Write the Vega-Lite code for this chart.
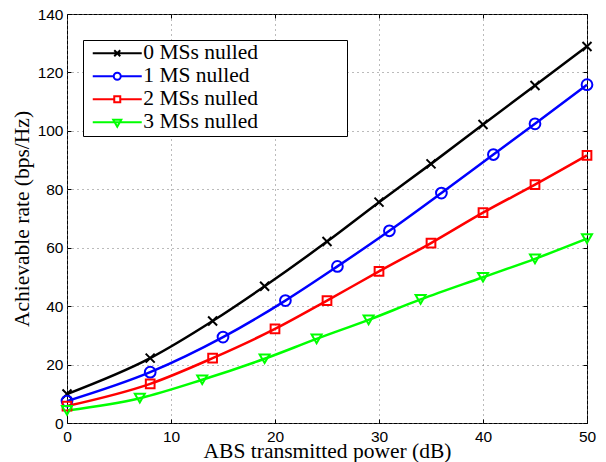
{
  "$schema": "https://vega.github.io/schema/vega-lite/v6.json",
  "width": 520,
  "height": 409,
  "autosize": {"type": "none"},
  "padding": {"left": 67, "top": 14, "right": 19, "bottom": 39},
  "background": "white",
  "config": {
    "view": {"stroke": "black", "strokeWidth": 1},
    "axis": {
      "domain": false,
      "tickSize": -4,
      "tickColor": "black",
      "tickWidth": 1,
      "labelFont": "Liberation Sans",
      "labelFontSize": 15.5,
      "labelColor": "black",
      "labelFlush": false,
      "titleFont": "Liberation Serif",
      "titleFontSize": 21.5,
      "titleFontWeight": "normal",
      "titleColor": "black",
      "grid": true,
      "gridColor": "#777777",
      "gridDash": [1, 4],
      "gridWidth": 1
    },
    "legend": {
      "orient": "none",
      "legendX": 16,
      "legendY": 26,
      "title": null,
      "strokeColor": "black",
      "fillColor": "white",
      "padding": 2.5,
      "labelFont": "Liberation Serif",
      "labelFontSize": 21.5,
      "labelColor": "black",
      "symbolSize": 100,
      "symbolStrokeWidth": 2,
      "symbolOffset": 21,
      "labelOffset": 15.3,
      "rowPadding": 0
    }
  },
  "data": {
    "values": [
      {"series": "0 MSs nulled", "power": 0, "rate": 9.9},
      {"series": "0 MSs nulled", "power": 8, "rate": 22.2},
      {"series": "0 MSs nulled", "power": 14, "rate": 34.9},
      {"series": "0 MSs nulled", "power": 19, "rate": 46.8},
      {"series": "0 MSs nulled", "power": 25, "rate": 62.1},
      {"series": "0 MSs nulled", "power": 30, "rate": 75.6},
      {"series": "0 MSs nulled", "power": 35, "rate": 88.7},
      {"series": "0 MSs nulled", "power": 40, "rate": 102.2},
      {"series": "0 MSs nulled", "power": 45, "rate": 115.5},
      {"series": "0 MSs nulled", "power": 50, "rate": 128.9},
      {"series": "1 MS nulled", "power": 0, "rate": 7.5},
      {"series": "1 MS nulled", "power": 8, "rate": 17.4},
      {"series": "1 MS nulled", "power": 15, "rate": 29.4},
      {"series": "1 MS nulled", "power": 21, "rate": 41.9},
      {"series": "1 MS nulled", "power": 26, "rate": 53.6},
      {"series": "1 MS nulled", "power": 31, "rate": 65.8},
      {"series": "1 MS nulled", "power": 36, "rate": 78.7},
      {"series": "1 MS nulled", "power": 41, "rate": 91.9},
      {"series": "1 MS nulled", "power": 45, "rate": 102.4},
      {"series": "1 MS nulled", "power": 50, "rate": 115.8},
      {"series": "2 MSs nulled", "power": 0, "rate": 5.8},
      {"series": "2 MSs nulled", "power": 8, "rate": 13.4},
      {"series": "2 MSs nulled", "power": 14, "rate": 22.2},
      {"series": "2 MSs nulled", "power": 20, "rate": 32.2},
      {"series": "2 MSs nulled", "power": 25, "rate": 41.9},
      {"series": "2 MSs nulled", "power": 30, "rate": 51.9},
      {"series": "2 MSs nulled", "power": 35, "rate": 61.6},
      {"series": "2 MSs nulled", "power": 40, "rate": 72.0},
      {"series": "2 MSs nulled", "power": 45, "rate": 81.6},
      {"series": "2 MSs nulled", "power": 50, "rate": 91.6},
      {"series": "3 MSs nulled", "power": 0, "rate": 4.3},
      {"series": "3 MSs nulled", "power": 7, "rate": 8.5},
      {"series": "3 MSs nulled", "power": 13, "rate": 14.8},
      {"series": "3 MSs nulled", "power": 19, "rate": 22.0},
      {"series": "3 MSs nulled", "power": 24, "rate": 28.8},
      {"series": "3 MSs nulled", "power": 29, "rate": 35.3},
      {"series": "3 MSs nulled", "power": 34, "rate": 42.3},
      {"series": "3 MSs nulled", "power": 40, "rate": 49.9},
      {"series": "3 MSs nulled", "power": 45, "rate": 56.2},
      {"series": "3 MSs nulled", "power": 50, "rate": 63.1}
    ]
  },
  "layer": [
    {
      "mark": {"type": "line", "strokeWidth": 2.5, "interpolate": "monotone"},
      "encoding": {
        "x": {"field": "power", "type": "quantitative", "scale": {"domain": [0, 50], "nice": false},
              "axis": {"values": [0, 10, 20, 30, 40, 50], "title": "ABS transmitted power (dB)", "labelPadding": 10, "titlePadding": -4.5}},
        "y": {"field": "rate", "type": "quantitative", "scale": {"domain": [0, 140], "nice": false},
              "axis": {"values": [0, 20, 40, 60, 80, 100, 120, 140], "title": "Achievable rate (bps/Hz)", "labelPadding": 8, "titlePadding": 4}},
        "color": {
          "field": "series", "type": "nominal",
          "scale": {"domain": ["0 MSs nulled", "1 MS nulled", "2 MSs nulled", "3 MSs nulled"], "range": ["#000000", "#0000ff", "#ff0000", "#00ff00"]},
          "legend": {
            "encode": {
              "symbols": {
                "update": {
                  "fill": {"value": "transparent"},
                  "shape": {"signal": "datum.value === '0 MSs nulled' ? 'M-4.9,0H4.9M-0.6,-0.6L0.6,0.6M-0.6,0.6L0.6,-0.6M44.6,0' : datum.value === '1 MS nulled' ? 'M-4.9,0H-0.7M0.7,0H4.9M-0.7,0A0.7,0.7,0,1,1,0.7,0A0.7,0.7,0,1,1,-0.7,0M44.6,0' : datum.value === '2 MSs nulled' ? 'M-4.9,0H-0.6M0.6,0H4.9M-0.6,-0.6H0.6V0.6H-0.6ZM44.6,0' : 'M-4.9,0H4.9M-0.8,-0.5L0.8,-0.5L0,0.9ZM44.6,0'"}
                }
              }
            }
          }
        }
      }
    },
    {
      "transform": [{"filter": {"field": "series", "equal": "0 MSs nulled"}}],
      "mark": {"type": "point", "filled": false, "strokeWidth": 2, "opacity": 1, "shape": "M-1,-1L1,1M-1,1L1,-1", "size": 81},
      "encoding": {
        "x": {"field": "power", "type": "quantitative", "axis": null},
        "y": {"field": "rate", "type": "quantitative", "axis": null},
        "color": {"field": "series", "type": "nominal", "legend": null}
      }
    },
    {
      "transform": [{"filter": {"field": "series", "equal": "1 MS nulled"}}],
      "mark": {"type": "point", "filled": false, "strokeWidth": 2, "opacity": 1, "shape": "circle", "size": 115},
      "encoding": {
        "x": {"field": "power", "type": "quantitative", "axis": null},
        "y": {"field": "rate", "type": "quantitative", "axis": null},
        "color": {"field": "series", "type": "nominal", "legend": null}
      }
    },
    {
      "transform": [{"filter": {"field": "series", "equal": "2 MSs nulled"}}],
      "mark": {"type": "point", "filled": false, "strokeWidth": 2, "opacity": 1, "shape": "square", "size": 76},
      "encoding": {
        "x": {"field": "power", "type": "quantitative", "axis": null},
        "y": {"field": "rate", "type": "quantitative", "axis": null},
        "color": {"field": "series", "type": "nominal", "legend": null}
      }
    },
    {
      "transform": [{"filter": {"field": "series", "equal": "3 MSs nulled"}}],
      "mark": {"type": "point", "filled": false, "strokeWidth": 2, "opacity": 1, "shape": "triangle-down", "size": 100},
      "encoding": {
        "x": {"field": "power", "type": "quantitative", "axis": null},
        "y": {"field": "rate", "type": "quantitative", "axis": null},
        "color": {"field": "series", "type": "nominal", "legend": null}
      }
    },
    {
      "mark": {"type": "point", "opacity": 0},
      "encoding": {
        "x": {"field": "power", "type": "quantitative",
              "axis": {"orient": "top", "values": [0, 10, 20, 30, 40, 50], "labels": false, "grid": false, "title": null}},
        "y": {"field": "rate", "type": "quantitative",
              "axis": {"orient": "right", "values": [0, 20, 40, 60, 80, 100, 120, 140], "labels": false, "grid": false, "title": null}}
      }
    }
  ],
  "resolve": {"axis": {"x": "independent", "y": "independent"}}
}
